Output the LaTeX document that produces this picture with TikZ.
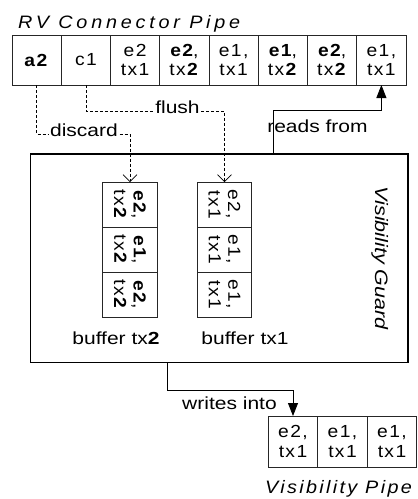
\documentclass[tikz,border=0pt]{standalone}
\usepackage{fontspec}
\setmainfont{Liberation Sans}
\newfontfamily\cellf[FakeStretch=1.1,LetterSpace=8]{Liberation Sans}
\newfontfamily\labf[FakeStretch=1.2]{Liberation Sans}
\newfontfamily\titf[FakeStretch=1.1,LetterSpace=21]{Liberation Sans}
\newfontfamily\vpf[FakeStretch=1.1,LetterSpace=13]{Liberation Sans}
\newfontfamily\vgf[FakeStretch=1.19]{Liberation Sans}
\usetikzlibrary{arrows.meta}
\begin{document}
\begin{tikzpicture}[x=1pt,y=-1pt,
  cellfont/.style={font=\cellf\fontsize{17.5}{19.5}\selectfont},
  pcell/.style={draw=black!85, line width=0.8pt, minimum width=49.25pt, minimum height=50pt,
    inner sep=0pt, outer sep=0pt, align=center, cellfont},
  vcell/.style={pcell, minimum width=49.5pt, minimum height=51pt},
  bcell/.style={draw=black!85, line width=0.8pt, rotate=-90, minimum width=45pt, minimum height=54.5pt,
    inner sep=0pt, outer sep=0pt, align=center, cellfont},
  lab/.style={font=\labf\fontsize{17.5}{21}\selectfont, inner sep=0pt},
  dlab/.style={lab, anchor=mid, inner xsep=1.5pt},
  guardbox/.style={draw=black, line width=1.3pt, inner sep=0pt, outer sep=0pt,
    minimum width=377.3pt, minimum height=208.5pt},
  sarrow/.style={line width=0.8pt, -{Triangle[length=13pt,width=10pt]}},
  dline/.style={line width=0.6pt, dash pattern=on 3pt off 2pt},
  darrow/.style={dline, -{Straight Barb[length=7pt,width=14pt,line width=0.6pt]}}
]
\useasboundingbox (0,0) rectangle (418,499);

% title
\node[anchor=base west, inner sep=0pt, font=\titf\itshape\fontsize{18}{22}\selectfont] (title) at (18,28) {RV Connector Pipe};

% RV connector pipe cells
\node[pcell] (p1) at (36.6,60) {\textbf{a2}};
\node[pcell] (p2) at (85.9,60) {c1};
\node[pcell] (p3) at (135.1,60) {e2\\tx1};
\node[pcell] (p4) at (184.4,60) {\textbf{e2},\\tx\textbf{2}};
\node[pcell] (p5) at (233.6,60) {e1,\\tx1};
\node[pcell] (p6) at (282.9,60) {\textbf{e1},\\tx\textbf{2}};
\node[pcell] (p7) at (332.1,60) {\textbf{e2},\\tx\textbf{2}};
\node[pcell] (p8) at (381.4,60) {e1,\\tx1};

% visibility guard
\node[guardbox] (guard) at (219.35,258.25) {};
\node[font=\vgf\itshape\fontsize{18}{22}\selectfont, inner sep=0pt, rotate=-90, anchor=base] (vg) at (375,258) {Visibility Guard};

% buffers
\node[bcell] (b21) at (130,204.5) {\textbf{e2},\\tx\textbf{2}};
\node[bcell] (b22) at (130,249.5) {\textbf{e1},\\tx\textbf{2}};
\node[bcell] (b23) at (130,294.5) {\textbf{e2},\\tx\textbf{2}};
\node[bcell] (b11) at (224.5,204.5) {e2,\\tx1};
\node[bcell] (b12) at (224.5,249.5) {e1,\\tx1};
\node[bcell] (b13) at (224.5,294.5) {e1,\\tx1};
\node[lab, anchor=base] (bl2) at (116,344) {buffer tx\textbf{2}};
\node[lab, anchor=base] (bl1) at (245,344) {buffer tx1};

% labels
\node[dlab] (dis) at (84,134) {discard};
\node[dlab] (fl) at (177.5,111) {flush};
\node[lab, anchor=base] (rfl) at (317.5,132.5) {reads from};
\node[lab, anchor=base] (wil) at (229.5,409) {writes into};

% visibility pipe
\node[vcell] (v1) at (293,441.5) {e2,\\tx1};
\node[vcell] (v2) at (342.5,441.5) {e1,\\tx1};
\node[vcell] (v3) at (392,441.5) {e1,\\tx1};
\node[anchor=base west, inner sep=0pt, font=\vpf\itshape\fontsize{18}{22}\selectfont] (vpl) at (265,493) {Visibility Pipe};

% connectors
\draw[dline] (p1.south) |- (dis.mid west);
\draw[darrow] (dis.mid east) -| (b21.west);
\draw[dline] (p2.south) |- (fl.mid west);
\draw[darrow] (fl.mid east) -| (b11.west);

\coordinate (rf) at (273,110);
\draw[sarrow] (guard.north -| rf) -- (rf) -| (p8.south);
\coordinate (wi) at (167,390);
\draw[sarrow] (guard.south -| wi) -- (wi) -| (v1.north);
\end{tikzpicture}
\end{document}
